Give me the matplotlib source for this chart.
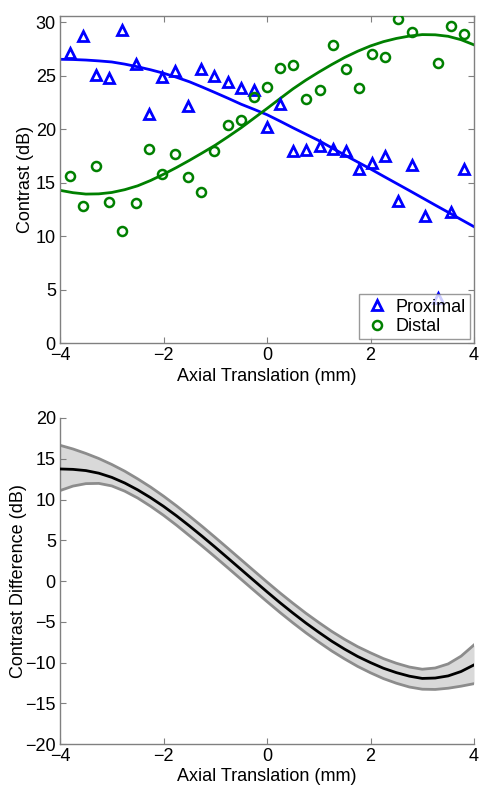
import numpy as np
import matplotlib
matplotlib.use("Agg")
import matplotlib.pyplot as plt

plt.rcParams['font.family'] = ['Liberation Sans', 'DejaVu Sans']

# ---- data: top panel (scatter) ----
x_pos = [-3.810, -3.556, -3.302, -3.048, -2.794, -2.540, -2.286, -2.032, -1.778, -1.524,
         -1.270, -1.016, -0.762, -0.508, -0.254, 0.000, 0.254, 0.508, 0.762, 1.016,
         1.270, 1.524, 1.778, 2.032, 2.286, 2.540, 2.794, 3.048, 3.302, 3.556, 3.810]
proximal = [27.13, 28.70, 25.10, 24.80, 29.30, 26.10, 21.40, 24.90, 25.45, 22.20,
            25.60, 24.96, 24.46, 23.90, 23.70, 20.26, 22.40, 17.98, 18.10, 18.45,
            18.20, 17.98, 16.25, 16.90, 17.55, 13.26, 16.70, 11.90, 4.25, 12.26, 16.34]
distal = [15.62, 12.82, 16.58, 13.19, 10.51, 13.07, 18.20, 15.84, 17.70, 15.53,
          14.13, 18.00, 20.40, 20.90, 23.00, 24.00, 25.77, 26.05, 22.87, 23.65,
          27.88, 25.61, 23.90, 27.00, 26.76, 30.28, 29.10, np.nan, 26.20, 29.63, 28.90]

# ---- data: fitted curves ----
x_fit = [-4.0, -3.75, -3.5, -3.25, -3.0, -2.75, -2.5, -2.25, -2.0, -1.75, -1.5, -1.25,
         -1.0, -0.75, -0.5, -0.25, 0.0, 0.25, 0.5, 0.75, 1.0, 1.25, 1.5, 1.75,
         2.0, 2.25, 2.5, 2.75, 3.0, 3.25, 3.5, 3.75, 4.0]
proximal_fit = [26.55, 26.53, 26.48, 26.40, 26.30, 26.10, 25.85, 25.57, 25.25, 24.87, 24.45, 23.95,
                23.43, 22.90, 22.35, 21.87, 21.37, 20.77, 20.15, 19.55, 18.95, 18.28, 17.60, 16.95,
                16.30, 15.62, 14.95, 14.28, 13.60, 12.92, 12.25, 11.57, 10.90]
distal_fit = [14.30, 14.08, 13.95, 13.97, 14.10, 14.36, 14.72, 15.22, 15.80, 16.43, 17.10, 17.80,
              18.52, 19.32, 20.15, 21.05, 21.95, 22.87, 23.78, 24.60, 25.35, 26.06, 26.72, 27.30,
              27.80, 28.20, 28.50, 28.72, 28.86, 28.84, 28.70, 28.38, 27.90]

# ---- data: bottom panel (difference and confidence band) ----
diff_mean = [13.75, 13.70, 13.55, 13.23, 12.72, 12.03, 11.19, 10.23, 9.17, 8.01, 6.77, 5.48,
             4.15, 2.79, 1.42, 0.05, -1.31, -2.64, -3.91, -5.13, -6.27, -7.36, -8.34, -9.23,
             -9.99, -10.68, -11.22, -11.65, -11.93, -11.88, -11.62, -11.08, -10.27]
diff_upper = [16.65, 16.20, 15.65, 15.03, 14.30, 13.48, 12.54, 11.53, 10.42, 9.23, 7.98, 6.69,
              5.35, 3.99, 2.62, 1.25, -0.11, -1.44, -2.71, -3.93, -5.07, -6.16, -7.14, -8.03,
              -8.79, -9.50, -10.07, -10.53, -10.80, -10.65, -10.15, -9.20, -7.82]
diff_lower = [11.10, 11.65, 11.95, 11.98, 11.67, 11.03, 10.19, 9.18, 8.07, 6.86, 5.57, 4.28,
              2.95, 1.59, 0.22, -1.15, -2.51, -3.84, -5.11, -6.33, -7.47, -8.56, -9.54, -10.45,
              -11.24, -11.95, -12.52, -12.98, -13.25, -13.28, -13.13, -12.88, -12.57]

top_yticks = [0, 5, 10, 15, 20, 25, 30]
bot_yticks = [-20, -15, -10, -5, 0, 5, 10, 15, 20]
xticks = [-4, -2, 0, 2, 4]

BLUE = (0, 0, 1)
GREEN = (0, 0.5, 0)
SPINE = (0.5, 0.5, 0.5)
FS = 13

fig = plt.figure(figsize=(4.79, 7.87), dpi=100)

def style(ax, box):
    for s in ax.spines.values():
        s.set_color(SPINE)
        s.set_linewidth(1.0)
    if not box:
        ax.spines['top'].set_visible(False)
        ax.spines['right'].set_visible(False)
    ax.tick_params(direction='in', length=4, width=0.8, color=SPINE,
                   labelsize=FS, labelcolor='black', pad=3.0,
                   top=box, right=box)

# top panel
ax1 = fig.add_axes([0.1253, 0.5638, 0.8643, 0.4159])
ax1.plot(x_fit, proximal_fit, color=BLUE, lw=2, zorder=2)
ax1.plot(x_fit, distal_fit, color=GREEN, lw=2, zorder=2)
ax1.plot(x_pos, proximal, linestyle='none', marker='^', ms=7.5, mfc='none',
         mec=BLUE, mew=2, label='Proximal', zorder=3)
ax1.plot(x_pos, distal, linestyle='none', marker='o', ms=6.5, mfc='none',
         mec=GREEN, mew=1.8, label='Distal', zorder=3)
ax1.set_xlim(-4, 4)
ax1.set_ylim(0, 30.6)
ax1.set_xticks(xticks)
ax1.set_yticks(top_yticks)
ax1.set_xlabel('Axial Translation (mm)', fontsize=FS)
ax1.set_ylabel('Contrast (dB)', fontsize=FS)
ax1.xaxis.set_label_coords(0.5, -0.075)
ax1.yaxis.set_label_coords(-0.063, 0.5)
style(ax1, True)
leg = ax1.legend(loc='lower right', bbox_to_anchor=(0.991, 0.012), borderaxespad=0,
                 fontsize=FS, frameon=True, fancybox=False, handlelength=1.5,
                 handletextpad=0.3, borderpad=0.25, labelspacing=0.12)
leg.get_frame().set_edgecolor(SPINE)
leg.get_frame().set_linewidth(1.0)
leg.set_zorder(5)

# bottom panel
ax2 = fig.add_axes([0.1253, 0.0543, 0.8643, 0.4146])
ax2.fill_between(x_fit, diff_lower, diff_upper, color=(0.85, 0.85, 0.85), lw=0, zorder=1)
ax2.plot(x_fit, diff_upper, color=(0.55, 0.55, 0.55), lw=2, zorder=2)
ax2.plot(x_fit, diff_lower, color=(0.55, 0.55, 0.55), lw=2, zorder=2)
ax2.plot(x_fit, diff_mean, color='black', lw=2, zorder=3)
ax2.set_xlim(-4, 4)
ax2.set_ylim(-20, 20)
ax2.set_xticks(xticks)
ax2.set_yticks(bot_yticks)
ax2.set_xlabel('Axial Translation (mm)', fontsize=FS)
ax2.set_ylabel('Contrast Difference (dB)', fontsize=FS)
ax2.xaxis.set_label_coords(0.5, -0.073)
ax2.yaxis.set_label_coords(-0.08, 0.5)
style(ax2, False)

fig.savefig('out.png', dpi=100)
